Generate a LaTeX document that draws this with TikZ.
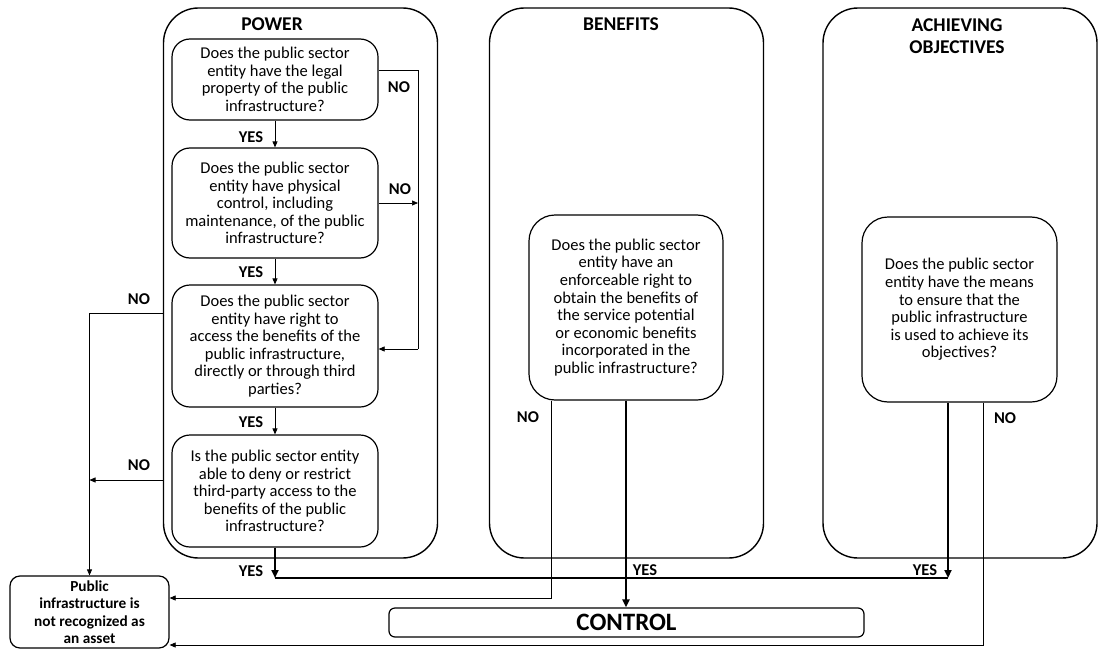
\documentclass[tikz,border=0pt]{standalone}
\usepackage{fontspec}
\setmainfont{Carlito}
\usetikzlibrary{arrows.meta}
\begin{document}
\begin{tikzpicture}[x=1pt,y=-1pt,
  frame/.style={draw, line width=1.4pt, rounded corners=35pt, minimum width=274pt, minimum height=550pt, inner sep=0pt},
  title/.style={font=\fontsize{19.5}{21.5}\selectfont\bfseries, align=center, inner sep=0pt},
  qbox/.style={draw, line width=1.2pt, rounded corners=18pt, align=center, inner sep=0pt, minimum width=206pt, font=\fontsize{16.5}{17.6}\selectfont},
  bigq/.style={qbox, rounded corners=26pt},
  lbl/.style={font=\fontsize{16.5}{18}\selectfont\bfseries, inner sep=0pt},
  conn/.style={line width=0.7pt, -{Triangle[length=6pt,width=5pt]}},
  plain/.style={line width=0.7pt},
  thickc/.style={line width=2.6pt, -{Triangle[length=8pt,width=7pt]}},
  thickl/.style={line width=2.6pt}
]
\useasboundingbox (0,0) rectangle (1099,650);

% frames
\node[frame] (power) at (300.5,283) {};
\node[frame] (benef) at (626.5,283) {};
\node[frame] (achie) at (960,283) {};
\node[title] (powert) at (272,24) {POWER};
\node[title] (beneft) at (621,24) {BENEFITS};
\node[title] (achiet) at (957,36) {ACHIEVING\\OBJECTIVES};

% power questions
\node[qbox, minimum height=81pt] (q1) at (275,79.5) {Does the public sector\\entity have the legal\\property of the public\\infrastructure?};
\node[qbox, minimum height=110pt] (q2) at (275,203) {Does the public sector\\entity have physical\\control, including\\maintenance, of the public\\infrastructure?};
\node[qbox, minimum height=122pt] (q3) at (275,346) {Does the public sector\\entity have right to\\access the benefits of the\\public infrastructure,\\directly or through third\\parties?};
\node[qbox, minimum height=112pt] (q4) at (275,491) {Is the public sector entity\\able to deny or restrict\\third-party access to the\\benefits of the public\\infrastructure?};

% benefits / achieving questions
\node[bigq, minimum width=194pt, minimum height=185pt] (bq) at (626,307.5) {Does the public sector\\entity have an\\enforceable right to\\obtain the benefits of\\the service potential\\or economic benefits\\incorporated in the\\public infrastructure?};
\node[bigq, minimum width=195pt, minimum height=185pt] (aq) at (959.5,309.5) {Does the public sector\\entity have the means\\to ensure that the\\public infrastructure\\is used to achieve its\\objectives?};

% result boxes
\node[draw, line width=1.2pt, rounded corners=10pt, minimum width=159pt, minimum height=72pt, align=center, inner sep=0pt, font=\fontsize{15.3}{17.4}\selectfont\bfseries] (pub) at (89.5,612) {Public\\infrastructure is\\not recognized as\\an asset};
\node[draw, line width=1.2pt, rounded corners=6pt, minimum width=475pt, minimum height=29pt, inner sep=0pt, font=\fontsize{25}{28}\selectfont\bfseries] (ctrl) at (626.5,622.5) {CONTROL};

% helper coordinates
\coordinate (loopx) at (418,0);
\coordinate (ya) at (0,313);
\coordinate (yb) at (0,480);
\coordinate (bnx) at (551,0);
\coordinate (anx) at (983,0);
\coordinate (hl) at (0,578);

% power chain
\draw[conn] (q1.south) -- (q2.north);
\draw[conn] (q2.south) -- (q3.north);
\draw[conn] (q3.south) -- (q4.north);
\draw[plain] ([yshift=9.5pt]q1.east) -| (loopx |- q3.east);
\draw[conn] ([yshift=-3pt]loopx |- q3.east) -- ([yshift=-3pt]q3.east);
\draw[plain] (loopx |- q3.east) -- ([yshift=-3pt]loopx |- q3.east);
\draw[conn] (q2.east) -- (loopx |- q2.east);

% left NO lines
\draw[conn] (power.west |- ya) -| (pub.north);
\draw[conn] (power.west |- yb) -- (pub.north |- yb);

% NO lines to public box
\draw[conn] (bq.south -| bnx) |- ([yshift=14pt]pub.east);
\draw[conn] (aq.south -| anx) |- ([yshift=-33pt]pub.east);

% thick YES lines
\draw[thickc] (q4.south) -- (q4.south |- hl);
\draw[thickl] (q4.south |- hl) -- ([xshift=-11.5pt]aq.south |- hl);
\draw[thickc] ([xshift=-11.5pt]aq.south) -- ([xshift=-11.5pt]aq.south |- hl);
\draw[thickc] (bq.south) -- (bq.south |- ctrl.north);

% labels
\node[lbl] (y1) at (251,137) {YES};
\node[lbl] (y2) at (251,272) {YES};
\node[lbl] (y3) at (251,422) {YES};
\node[lbl] (y4) at (251,571) {YES};
\node[lbl] (y5) at (645,570) {YES};
\node[lbl] (y6) at (925,570) {YES};
\node[lbl] (n1) at (399,87) {NO};
\node[lbl] (n2) at (400,189) {NO};
\node[lbl] (n3) at (139,299) {NO};
\node[lbl] (n4) at (139,465) {NO};
\node[lbl] (n5) at (528,417) {NO};
\node[lbl] (n6) at (1005,418) {NO};
\end{tikzpicture}
\end{document}
